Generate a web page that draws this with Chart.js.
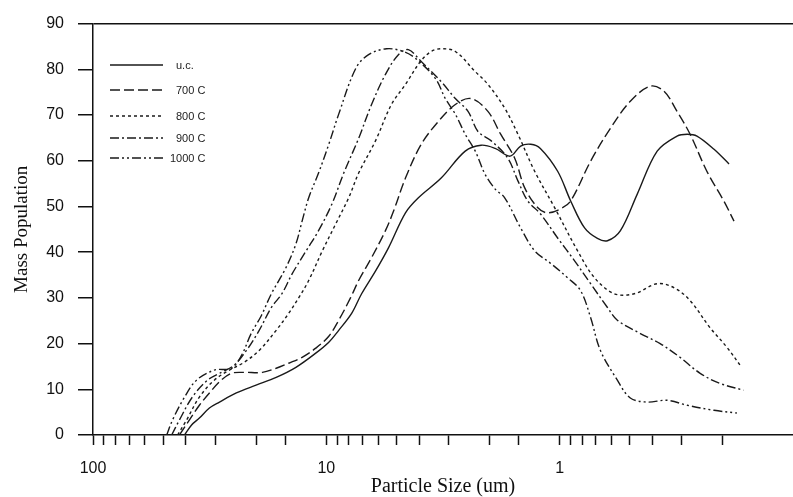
<!DOCTYPE html>
<html>
<head>
<meta charset="utf-8">
<title>Mass Population vs Particle Size</title>
<script src="https://cdn.jsdelivr.net/npm/chart.js@4.4.1/dist/chart.umd.min.js"></script>
<style>
  html, body { margin: 0; padding: 0; background: #fff; }
  canvas { display: block; }
</style>
</head>
<body>
<canvas id="chart" width="793" height="497"></canvas>
<script>
// particle size (um) and mass population
const SIZE_UC = [40.5, 37.8, 35.0, 31.7, 28.7, 24.3, 20.0, 16.4, 13.5, 11.1, 9.76, 8.85, 7.79, 7.06, 6.15, 5.41, 4.58, 4.03, 3.22, 2.54, 2.17, 1.89, 1.63, 1.47, 1.33, 1.21, 1.02, 0.897, 0.782, 0.689, 0.624, 0.549, 0.465, 0.382, 0.314, 0.284, 0.258, 0.218, 0.188];
const MASS_UC = [0, 2.2, 3.7, 5.9, 7.2, 9.2, 10.9, 12.6, 14.8, 17.9, 20.3, 22.9, 26.6, 30.9, 35.9, 41.0, 48.6, 51.9, 56.2, 62.1, 63.4, 62.7, 61.0, 63.2, 63.6, 62.7, 57.7, 51.2, 45.3, 43.0, 42.5, 44.7, 52.7, 62.1, 65.4, 65.8, 65.4, 62.5, 59.3];

const SIZE_700 = [42.6, 38.6, 35.0, 31.7, 28.2, 25.5, 22.5, 18.8, 16.4, 14.5, 12.7, 11.1, 9.76, 8.85, 7.86, 7.27, 6.40, 5.58, 5.15, 4.58, 3.92, 3.31, 2.80, 2.40, 2.03, 1.79, 1.56, 1.41, 1.24, 1.13, 0.99, 0.897, 0.737, 0.606, 0.498, 0.409, 0.357, 0.314, 0.276, 0.234, 0.198, 0.179];
const MASS_700 = [0, 3.3, 6.5, 9.2, 12.0, 13.5, 13.7, 13.7, 14.6, 15.7, 17.0, 19.0, 21.6, 25.1, 30.1, 33.8, 38.8, 44.7, 49.0, 56.2, 63.6, 68.6, 72.3, 73.6, 70.8, 65.8, 60.6, 54.0, 49.7, 48.6, 49.5, 51.2, 59.9, 67.1, 73.0, 76.3, 75.2, 70.8, 65.8, 57.7, 51.2, 46.8];

const SIZE_800 = [43.4, 39.7, 35.0, 30.2, 26.0, 22.5, 19.4, 16.4, 14.5, 13.1, 11.9, 10.4, 9.11, 8.02, 7.27, 6.15, 5.26, 4.58, 3.95, 3.55, 3.22, 2.80, 2.30, 2.03, 1.72, 1.51, 1.28, 1.05, 0.838, 0.709, 0.583, 0.479, 0.382, 0.323, 0.276, 0.227, 0.192, 0.166];
const MASS_800 = [0, 3.3, 8.3, 12.0, 14.2, 15.9, 18.5, 22.9, 26.6, 30.1, 33.8, 40.3, 46.2, 51.9, 57.3, 64.4, 72.3, 76.7, 81.7, 83.9, 84.5, 83.9, 79.5, 76.7, 71.5, 65.8, 57.7, 49.7, 40.3, 34.4, 30.9, 30.9, 33.1, 32.2, 29.4, 23.5, 19.2, 14.8];

const SIZE_900 = [46.0, 42.6, 37.5, 32.3, 28.2, 24.8, 22.0, 19.4, 17.2, 15.5, 14.0, 12.2, 10.8, 9.47, 8.42, 7.27, 6.40, 5.58, 4.91, 4.45, 3.92, 3.22, 2.80, 2.47, 2.24, 1.97, 1.67, 1.51, 1.37, 1.21, 1.02, 0.863, 0.737, 0.624, 0.566, 0.451, 0.371, 0.305, 0.250, 0.206, 0.163];
const MASS_900 = [0, 3.3, 8.3, 12.0, 13.7, 15.3, 18.5, 22.9, 27.9, 30.9, 35.3, 40.3, 44.7, 50.5, 57.3, 64.9, 72.3, 78.9, 83.2, 84.3, 81.7, 77.3, 73.6, 70.8, 66.4, 64.4, 60.6, 55.6, 51.2, 48.4, 43.1, 38.1, 33.1, 27.9, 25.1, 22.2, 20.0, 17.0, 13.5, 11.3, 9.8];

const SIZE_1000 = [48.3, 45.6, 40.5, 36.0, 30.2, 25.5, 23.1, 21.0, 19.0, 17.2, 14.9, 13.5, 12.7, 11.9, 10.8, 9.76, 8.85, 7.48, 6.59, 5.52, 4.67, 4.15, 3.41, 3.09, 2.80, 2.54, 2.30, 2.09, 1.89, 1.72, 1.47, 1.28, 1.09, 0.925, 0.814, 0.737, 0.669, 0.566, 0.498, 0.421, 0.346, 0.284, 0.218, 0.174];
const MASS_1000 = [0, 3.3, 8.3, 12.0, 14.2, 14.6, 17.4, 22.2, 26.1, 30.9, 36.6, 41.8, 46.8, 51.9, 57.3, 63.6, 70.2, 80.2, 83.2, 84.5, 83.9, 82.4, 78.0, 73.6, 70.2, 65.8, 62.1, 57.1, 53.8, 51.9, 45.3, 40.3, 37.5, 34.4, 31.6, 25.7, 18.5, 12.0, 8.1, 7.2, 7.6, 6.5, 5.4, 4.8];

const SERIES_LABELS = ['u.c.', '700 C', '800 C', '900 C', '1000 C'];
const Y_TICKS = [0, 10, 20, 30, 40, 50, 60, 70, 80, 90];
const X_LABELED = [100, 10, 1];

const INK   = '#1a1a1a';
const AXIS  = '#111';
const SANS  = "'Liberation Sans', Arial, sans-serif";
const SERIF = "'Liberation Serif', 'Times New Roman', serif";

const DASHES = [[], [10, 4], [3, 3], [9, 3, 2, 3], [9, 3, 2, 3, 2, 3]];

function pairs(xs, ys) {
  return xs.map((x, i) => ({ x, y: ys[i] }));
}

const seriesData = [
  pairs(SIZE_UC, MASS_UC),
  pairs(SIZE_700, MASS_700),
  pairs(SIZE_800, MASS_800),
  pairs(SIZE_900, MASS_900),
  pairs(SIZE_1000, MASS_1000),
];

// legend sits inside the plot, top-left, like the original figure
const LEGEND_ROWS = [65, 90, 116, 138, 158];
const insetLegend = {
  id: 'insetLegend',
  afterDraw(chart) {
    const { ctx } = chart;
    ctx.save();
    chart.data.datasets.forEach((ds, i) => {
      const y = LEGEND_ROWS[i];
      ctx.beginPath();
      ctx.setLineDash(ds.borderDash || []);
      ctx.strokeStyle = INK;
      ctx.lineWidth = 1.4;
      ctx.moveTo(110, y);
      ctx.lineTo(163, y);
      ctx.stroke();
      ctx.setLineDash([]);
      ctx.fillStyle = '#222';
      ctx.font = `11px ${SANS}`;
      ctx.textBaseline = 'middle';
      ctx.textAlign = 'left';
      ctx.fillText(ds.label, i === 4 ? 170 : 176, y + 1);
    });
    ctx.restore();
  },
};

new Chart(document.getElementById('chart'), {
  type: 'line',
  data: {
    datasets: seriesData.map((data, i) => ({
      label: SERIES_LABELS[i],
      data,
      borderColor: INK,
      borderWidth: 1.4,
      borderDash: DASHES[i],
      pointRadius: 0,
      tension: 0.35,
      fill: false,
    })),
  },
  options: {
    responsive: false,
    animation: false,
    layout: { padding: { top: 22, right: -3, left: 0, bottom: 0 } },
    plugins: {
      legend: { display: false },
      tooltip: { enabled: false },
    },
    scales: {
      x: {
        type: 'logarithmic',
        reverse: true,
        min: 0.1,
        max: 100,
        // the axis runs off the right edge of the scan, so no room is kept for end labels
        afterFit: s => { s.height = 62; s.paddingLeft = 0; s.paddingRight = 0; },
        border: { color: AXIS, width: 1.5 },
        grid: {
          drawOnChartArea: false,
          tickLength: 10,
          tickColor: c => (c.tick && c.tick.value <= 0.1 ? 'transparent' : AXIS),
          tickWidth: 1.5,
        },
        ticks: {
          autoSkip: false,
          maxRotation: 0,
          padding: 14,
          color: AXIS,
          font: { family: SANS, size: 16 },
          callback: v => (X_LABELED.includes(Number(v)) ? String(v) : ''),
        },
        title: {
          display: true,
          text: 'Particle Size (um)',
          color: AXIS,
          font: { family: SERIF, size: 20, lineHeight: 1 },
          padding: 0,
        },
      },
      y: {
        min: 0,
        max: 90,
        afterFit: s => { s.width = 93; },
        afterBuildTicks: s => { s.ticks = Y_TICKS.map(value => ({ value })); },
        border: { color: AXIS, width: 1.5 },
        grid: {
          color: c => (c.tick && c.tick.value === 90 ? AXIS : 'transparent'),
          lineWidth: 1.5,
          tickColor: AXIS,
          tickLength: 15,
          tickWidth: 1.5,
        },
        ticks: {
          padding: 14,
          color: AXIS,
          font: { family: SANS, size: 16 },
        },
        title: {
          display: true,
          text: 'Mass Population',
          color: AXIS,
          font: { family: SERIF, size: 19, lineHeight: 1 },
          padding: { top: 13, bottom: 0 },
        },
      },
    },
  },
  plugins: [insetLegend],
});
</script>
</body>
</html>
